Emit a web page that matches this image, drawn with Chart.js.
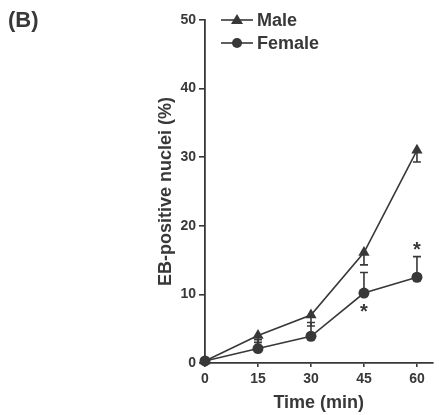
<!DOCTYPE html>
<html>
<head>
<meta charset="utf-8">
<script src="https://cdn.jsdelivr.net/npm/chart.js@4.4.1/dist/chart.umd.min.js"></script>
<style>
  html, body { margin: 0; padding: 0; background: #fff; }
  #wrap { width: 439px; height: 415px; position: relative; }
</style>
</head>
<body>
<div id="wrap"><canvas id="chart"></canvas></div>
<script>
// time points (min) and tick labels
const times = [0, 15, 30, 45, 60];
const xTicks = [0, 15, 30, 45, 60];
const yTicks = [0, 10, 20, 30, 40, 50];

// EB-positive nuclei (%)
const maleValues = [0.3, 4.0, 7.0, 16.1, 31.0];
const maleSem = [0, 1.0, 1.6, 1.8, 1.7];        // drawn downward
const femaleValues = [0.3, 2.1, 3.9, 10.2, 12.5];
const femaleSem = [0, 1.3, 2.0, 3.0, 3.0];      // drawn upward
const femaleStars = ['', '', '', 'below', 'above'];

const ink = '#383838';
const font = 'Liberation Sans, Arial, Helvetica, sans-serif';

const toXY = (vals) => vals.map((v, i) => ({ x: times[i], y: v }));

// error bars, significance stars, panel letter and legend
const extras = {
  id: 'extras',
  afterDatasetsDraw(chart) {
    const ctx = chart.ctx;
    const xs = chart.scales.x, ys = chart.scales.y;
    const area = chart.chartArea;
    ctx.save();
    ctx.strokeStyle = ink;
    ctx.lineWidth = 1.6;

    function errBar(t, v, e, dir) {
      if (!e) return;
      const px = xs.getPixelForValue(t);
      const p0 = ys.getPixelForValue(v);
      const p1 = ys.getPixelForValue(v + dir * e);
      ctx.beginPath();
      ctx.moveTo(px, p0);
      ctx.lineTo(px, p1);
      ctx.moveTo(px - 4, p1);
      ctx.lineTo(px + 4, p1);
      ctx.stroke();
    }
    times.forEach((t, i) => {
      errBar(t, maleValues[i], maleSem[i], -1);
      errBar(t, femaleValues[i], femaleSem[i], 1);
    });

    ctx.fillStyle = ink;
    ctx.font = 'bold 20px ' + font;
    ctx.textAlign = 'center';
    ctx.textBaseline = 'middle';
    femaleStars.forEach((s, i) => {
      if (!s) return;
      const px = xs.getPixelForValue(times[i]);
      if (s === 'below') {
        ctx.fillText('*', px, ys.getPixelForValue(femaleValues[i]) + 19);
      } else {
        ctx.fillText('*', px, ys.getPixelForValue(femaleValues[i] + femaleSem[i]) - 6);
      }
    });

    // panel letter
    ctx.textAlign = 'left';
    ctx.font = 'bold 22px ' + font;
    ctx.fillText('(B)', 8, 21);

    // legend
    const rows = [
      { label: 'Male', style: 'triangle' },
      { label: 'Female', style: 'circle' }
    ];
    rows.forEach((r, k) => {
      const y = area.top + k * 23;
      const x0 = area.left + 16;
      ctx.beginPath();
      ctx.moveTo(x0, y);
      ctx.lineTo(x0 + 32, y);
      ctx.stroke();
      const mx = x0 + 16;
      ctx.beginPath();
      if (r.style === 'triangle') {
        ctx.moveTo(mx, y - 6);
        ctx.lineTo(mx + 6, y + 4);
        ctx.lineTo(mx - 6, y + 4);
        ctx.closePath();
      } else {
        ctx.arc(mx, y, 5, 0, Math.PI * 2);
      }
      ctx.fill();
      ctx.font = 'bold 18px ' + font;
      ctx.fillText(r.label, x0 + 36, y + 1);
    });
    ctx.restore();
  }
};

const config = {
  type: 'line',
  data: {
    datasets: [
      {
        label: 'Female',
        data: toXY(femaleValues),
        borderColor: ink,
        backgroundColor: ink,
        borderWidth: 1.6,
        pointStyle: 'circle',
        pointRadius: 5.5,
        pointBorderWidth: 0,
        clip: false,
        order: 0
      },
      {
        label: 'Male',
        data: toXY(maleValues),
        borderColor: ink,
        backgroundColor: ink,
        borderWidth: 1.6,
        pointStyle: 'triangle',
        pointRadius: 6.5,
        pointBorderWidth: 0,
        clip: false,
        order: 1
      }
    ]
  },
  options: {
    responsive: true,
    maintainAspectRatio: false,
    animation: false,
    layout: { padding: { left: 140, top: 20, right: 0, bottom: 0 } },
    plugins: {
      legend: { display: false },
      tooltip: { enabled: false }
    },
    scales: {
      x: {
        type: 'linear',
        min: 0,
        max: 64.4,
        afterBuildTicks: (s) => { s.ticks = xTicks.map(v => ({ value: v })); },
        afterFit: (s) => { s.height = 52; s.paddingLeft = 0; s.paddingRight = 0; },
        grid: { drawOnChartArea: false, drawTicks: true, tickLength: 4, tickColor: ink, lineWidth: 1.6 },
        border: { display: true, color: ink, width: 1.8 },
        ticks: { color: ink, font: { family: font, size: 14, weight: 'bold' }, padding: 4 },
        title: {
          display: true,
          text: 'Time (min)',
          color: ink,
          font: { family: font, size: 18, weight: 'bold' },
          padding: { top: 0, bottom: 1 }
        }
      },
      y: {
        min: 0,
        max: 50,
        afterBuildTicks: (s) => { s.ticks = yTicks.map(v => ({ value: v })); },
        afterFit: (s) => { s.width = 65; s.paddingTop = 0; s.paddingBottom = 0; },
        grid: { drawOnChartArea: false, drawTicks: true, tickLength: 6, tickColor: ink, lineWidth: 1.6 },
        border: { display: true, color: ink, width: 1.8 },
        ticks: { color: ink, font: { family: font, size: 14, weight: 'bold' }, padding: 3 },
        title: {
          display: true,
          text: 'EB-positive nuclei (%)',
          color: ink,
          font: { family: font, size: 18, weight: 'bold' },
          padding: { top: 15, bottom: 0 }
        }
      }
    }
  },
  plugins: [extras]
};

new Chart(document.getElementById('chart'), config);
</script>
</body>
</html>
